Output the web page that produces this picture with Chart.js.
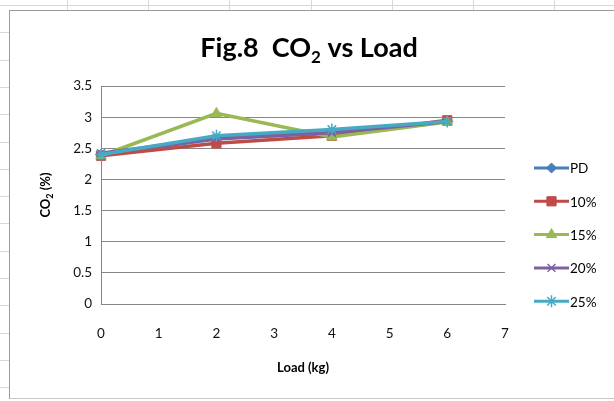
<!DOCTYPE html>
<html>
<head>
<meta charset="utf-8">
<script src="https://cdn.jsdelivr.net/npm/chart.js@4.4.1/dist/chart.umd.min.js"></script>
<style>
  html, body { margin:0; padding:0; background:#fff; }
  body { width:614px; height:401px; position:relative; overflow:hidden; }
  .gl { position:absolute; background:#d4d8df; }
  #box { position:absolute; left:9px; top:10px; width:620px; height:387px; border:1px solid #9a9a9a; border-bottom-color:#c8c8c8; background:#fff; }
  #wrap { position:absolute; left:10px; top:11px; width:604px; height:387px; }
</style>
</head>
<body>
<div id="bg"></div>
<div id="box"></div>
<div id="wrap"><canvas id="c"></canvas></div>
<script>
// ---- data ----
const loads = [0, 2, 4, 6];
const seriesNames = ['PD', '10%', '15%', '20%', '25%'];
const pd    = [2.40, 2.65, 2.75, 2.93];
const p10   = [2.38, 2.58, 2.70, 2.95];
const p15   = [2.38, 3.06, 2.68, 2.92];
const p20   = [2.42, 2.66, 2.75, 2.93];
const p25   = [2.40, 2.70, 2.80, 2.93];
const xTicks = [0, 1, 2, 3, 4, 5, 6, 7];
const yTicks = [0, 0.5, 1, 1.5, 2, 2.5, 3, 3.5];

// ---- spreadsheet background ----
const bg = document.getElementById('bg');
function gl(l, t, w, h) { const d = document.createElement('div'); d.className = 'gl'; d.style.cssText = `left:${l}px;top:${t}px;width:${w}px;height:${h}px`; bg.appendChild(d); }
gl(0, 5, 614, 1);
[67, 148, 229, 311, 392, 473, 554].forEach(x => gl(x, 0, 1, 10));
for (let k = 1; k < 15; k++) gl(0, Math.round(5 + 27.3 * k), 9, 1);

const colors = ['#4A7EBB', '#BE4B48', '#98B954', '#7D60A0', '#46AAC5'];
const styles = ['rectRot', 'rect', 'triangle', 'crossRot', 'star'];
const radii  = [5, 6.5, 6, 5.5, 6];
const values = [pd, p10, p15, p20, p25];

const datasets = values.map((v, i) => ({
  label: seriesNames[i],
  data: loads.map((x, j) => ({ x: x, y: v[j] })),
  borderColor: colors[i],
  backgroundColor: colors[i],
  borderWidth: 3.5,
  pointStyle: styles[i],
  pointRadius: radii[i],
  pointBorderWidth: (styles[i] === 'crossRot' || styles[i] === 'star') ? 1.5 : 1,
  pointBorderColor: colors[i],
  pointBackgroundColor: colors[i],
  tension: 0,
  clip: false,
  order: 4 - i
}));

const FONT = 'Lato, "Open Sans", sans-serif';

const overlay = {
  id: 'overlay',
  afterDraw(chart) {
    const ctx = chart.ctx;
    ctx.save();
    ctx.fillStyle = '#000';
    // title
    ctx.textBaseline = 'alphabetic';
    const big = 'bold 27px ' + FONT, small = 'bold 17px ' + FONT;
    ctx.font = big; const a = 'Fig.8  CO', c = ' vs Load';
    const wa = ctx.measureText(a).width, wc = ctx.measureText(c).width;
    ctx.font = small; const wb = ctx.measureText('2').width;
    let x0 = 299 - (wa + wb + wc) / 2, base = 46;
    ctx.font = big; ctx.textAlign = 'left'; ctx.fillText(a, x0, base);
    ctx.font = small; ctx.fillText('2', x0 + wa, base + 6);
    ctx.font = big; ctx.fillText(c, x0 + wa + wb, base);
    // x title
    ctx.font = 'bold 13px ' + FONT; ctx.textAlign = 'center'; ctx.textBaseline = 'middle';
    ctx.fillText('Load (kg)', 293, 357);
    // y title rotated
    ctx.save();
    ctx.translate(35, 184); ctx.rotate(-Math.PI / 2);
    ctx.textBaseline = 'alphabetic'; ctx.textAlign = 'left';
    const f1 = 'bold 13px ' + FONT, f2 = 'bold 9px ' + FONT;
    ctx.font = f1; const t1 = 'CO', t3 = ' (%)';
    const w1 = ctx.measureText(t1).width, w3 = ctx.measureText(t3).width;
    ctx.font = f2; const w2 = ctx.measureText('2').width;
    let sx = -(w1 + w2 + w3) / 2;
    ctx.font = f1; ctx.fillText(t1, sx, 5);
    ctx.font = f2; ctx.fillText('2', sx + w1, 8);
    ctx.font = f1; ctx.fillText(t3, sx + w1 + w2, 5);
    ctx.restore();
    // legend
    const ly0 = 157, ldy = 33.3, lx = 524;
    chart.data.datasets.forEach((ds, i) => {
      const y = ly0 + i * ldy;
      ctx.strokeStyle = ds.borderColor; ctx.fillStyle = ds.backgroundColor;
      ctx.lineWidth = 3; ctx.beginPath(); ctx.moveTo(lx, y); ctx.lineTo(lx + 35, y); ctx.stroke();
      ctx.lineWidth = ds.pointBorderWidth;
      Chart.helpers.drawPoint(ctx, { pointStyle: ds.pointStyle, radius: ds.pointRadius, borderWidth: ds.pointBorderWidth, rotation: 0 }, lx + 17.5, y);
      ctx.fillStyle = '#000'; ctx.font = '13.5px ' + FONT; ctx.textAlign = 'left'; ctx.textBaseline = 'middle';
      ctx.fillText(ds.label, lx + 36, y + 1);
    });
    ctx.restore();
  }
};

new Chart(document.getElementById('c'), {
  type: 'line',
  data: { datasets },
  options: {
    responsive: true,
    maintainAspectRatio: false,
    animation: false,
    devicePixelRatio: 1,
    layout: { padding: { top: 75, right: 109, left: 0, bottom: 0 } },
    plugins: { legend: { display: false }, title: { display: false }, tooltip: { enabled: false } },
    scales: {
      x: {
        type: 'linear', min: 0, max: 7,
        afterFit(s) { s.height = 94; },
        afterBuildTicks(s) { s.ticks = xTicks.map(v => ({ value: v })); },
        grid: { display: false, drawTicks: false },
        border: { display: true, color: '#868686', width: 1 },
        ticks: { padding: 22, color: '#111', font: { family: FONT, size: 13.5 }, maxRotation: 0, callback: v => String(v) }
      },
      y: {
        min: 0, max: 3.5,
        afterFit(s) { s.width = 91; },
        afterBuildTicks(s) { s.ticks = yTicks.map(v => ({ value: v })); },
        grid: { color: '#868686', lineWidth: 1, drawTicks: false },
        border: { display: true, color: '#868686', width: 1 },
        ticks: { padding: 9, color: '#111', font: { family: FONT, size: 13.5 }, callback: v => String(v) }
      }
    }
  },
  plugins: [overlay]
});
</script>
</body>
</html>
